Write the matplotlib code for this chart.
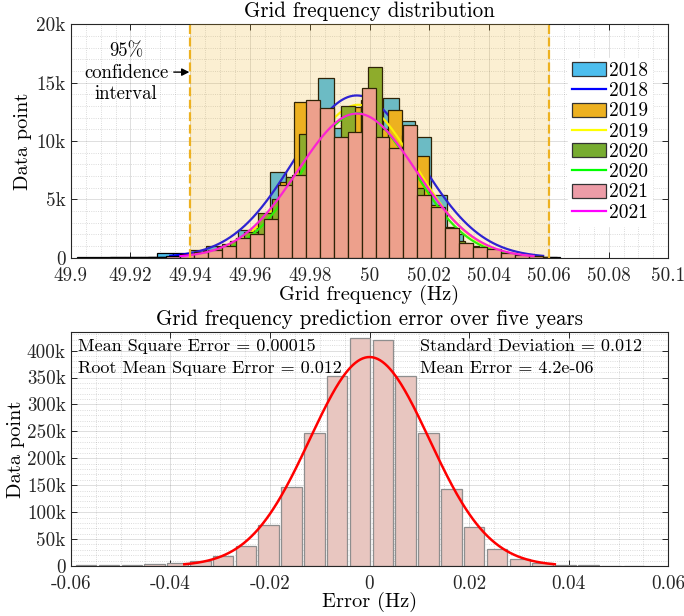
import numpy as np
import matplotlib
matplotlib.use("Agg")
import matplotlib.pyplot as plt
from matplotlib.patches import Patch
from matplotlib.lines import Line2D
from matplotlib.ticker import MultipleLocator

plt.rcParams['font.family'] = 'serif'
plt.rcParams['font.serif'] = ['cmr10']
plt.rcParams['mathtext.fontset'] = 'cm'
plt.rcParams['axes.unicode_minus'] = False

FS_TICK = 13.8
FS_LABEL = 14.7
FS_TITLE = 15.1

# ---- top panel: yearly frequency histograms (counts in thousands) ----
years = ['2018', '2019', '2020', '2021']
bar_colors = ['#4DBEEE', '#EDB120', '#77AC30', '#ED9CA7']
line_colors = ['#0000FF', '#FFFF00', '#00FF00', '#FF00FF']

first_edge = [49.90204, 49.92948, 49.92571, 49.913175]
bin_width = [0.005388, 0.004518, 0.004618, 0.004675]

counts_2018 = [0.02, 0.03, 0.04, 0.06, 0.1, 0.43, 0.43, 0.7, 1.0, 1.2, 2.4, 2.55,
               7.31, 6.8, 12.5, 15.43, 11.1, 12.0, 12.5, 13.7, 11.7, 10.3, 5.4,
               2.0, 1.0, 0.6, 0.3, 0.15, 0.08, 0.04]
counts_2019 = [0.05, 0.1, 0.2, 0.35, 0.6, 1.0, 1.5, 2.2, 3.6, 6.5, 13.3, 12.0,
               11.5, 10.0, 12.9, 13.5, 11.0, 12.66, 10.5, 8.7, 4.5, 2.6, 1.3,
               0.7, 0.4, 0.2, 0.1, 0.05]
counts_2020 = [0.04, 0.08, 0.15, 0.3, 0.55, 0.9, 1.4, 2.2, 3.8, 5.0, 6.9, 10.6,
               12.0, 10.0, 13.0, 10.5, 16.3, 9.0, 9.0, 6.0, 4.0, 2.5, 1.4, 0.9,
               0.5, 0.3, 0.15, 0.08, 0.04]
counts_2021 = [0.02, 0.03, 0.05, 0.08, 0.17, 0.29, 0.46, 0.66, 1.03, 1.69, 2.06,
               3.29, 6.2, 7.11, 13.5, 12.86, 10.34, 10.8, 14.57, 10.34, 9.37,
               11.37, 5.37, 4.37, 2.54, 1.29, 0.89, 0.71, 0.37, 0.2, 0.14, 0.09]
year_counts = [counts_2018, counts_2019, counts_2020, counts_2021]

# normal fits shown on top of each histogram
fit_mu = [49.9957, 49.9963, 49.9962, 49.9958]
fit_sigma = [0.0208, 0.0190, 0.0185, 0.0197]
fit_peak = [13.9, 13.1, 12.4, 12.35]

ci_low, ci_high = 49.94, 50.06

freq_ticks = [49.9, 49.92, 49.94, 49.96, 49.98, 50.0, 50.02, 50.04, 50.06, 50.08, 50.1]
freq_labels = ['49.9', '49.92', '49.94', '49.96', '49.98', '50', '50.02', '50.04',
               '50.06', '50.08', '50.1']
top_yticks = [0, 5000, 10000, 15000, 20000]
top_ylabels = ['0', '5k', '10k', '15k', '20k']

# ---- bottom panel: prediction error histogram ----
err_first_center = -0.0569
err_step = 0.004583
err_counts = [1.0, 1.5, 2.5, 4.0, 5.5, 10, 18, 36.5, 75.5, 146, 246.6, 353, 423,
              420, 353, 246.6, 143.8, 71.9, 31, 13, 6.2, 1.9, 1.2, 0.6, 0.4]
err_mu = 4.2e-6
err_sigma = 0.012
err_peak = 388.0

err_ticks = [-0.06, -0.04, -0.02, 0, 0.02, 0.04, 0.06]
err_labels = ['-0.06', '-0.04', '-0.02', '0', '0.02', '0.04', '0.06']
bot_yticks = [0, 50000, 100000, 150000, 200000, 250000, 300000, 350000, 400000]
bot_ylabels = ['0', '50k', '100k', '150k', '200k', '250k', '300k', '350k', '400k']

stats_left = ['Mean Square Error = 0.00015', 'Root Mean Square Error = 0.012']
stats_right = ['Standard Deviation = 0.012', 'Mean Error = 4.2e-06']


def style_axes(ax):
    ax.set_axisbelow(True)
    ax.grid(True, which='major', color='#262626', alpha=0.15, lw=0.7)
    ax.grid(True, which='minor', color='#262626', alpha=0.22, lw=0.6, ls=':')
    ax.tick_params(direction='in', top=True, right=True, length=4.5,
                   width=0.7, labelsize=FS_TICK, colors='#262626')
    ax.tick_params(axis='x', pad=6.5)
    ax.tick_params(which='minor', length=0)
    for sp in ax.spines.values():
        sp.set_color('#262626')
        sp.set_linewidth(0.8)


fig = plt.figure(figsize=(6.84, 6.16), dpi=100)
ax1 = fig.add_axes([0.1034, 0.5817, 0.8737, 0.3789])
ax2 = fig.add_axes([0.1034, 0.0812, 0.8737, 0.3794])

handles = []
for i, yr in enumerate(years):
    c = np.asarray(year_counts[i]) * 1000
    edges = first_edge[i] + bin_width[i] * np.arange(len(c))
    ax1.bar(edges, c, width=bin_width[i], align='edge', color=bar_colors[i],
            edgecolor='black', linewidth=0.9, zorder=2)
    x = np.linspace(fit_mu[i] - 3 * fit_sigma[i], fit_mu[i] + 3 * fit_sigma[i], 300)
    y = fit_peak[i] * 1000 * np.exp(-0.5 * ((x - fit_mu[i]) / fit_sigma[i]) ** 2)
    ax1.plot(x, y, color=line_colors[i], lw=1.6, zorder=2)
    handles.append(Patch(facecolor=bar_colors[i], edgecolor='#333333', lw=0.9, label=yr))
    handles.append(Line2D([], [], color=line_colors[i], lw=1.6, label=yr))

ax1.axvspan(ci_low, ci_high, color='#EDB120', alpha=0.2, lw=0, zorder=3)
for xv in (ci_low, ci_high):
    ax1.axvline(xv, color='#EDB120', lw=1.6, ls=(0, (4, 1.6)), zorder=4)

ax1.text(49.9185, 15830, '95%\nconfidence\ninterval', ha='center', va='center',
         fontsize=13.5, linespacing=1.25, zorder=5)
ax1.annotate('', xy=(49.9397, 15900), xytext=(49.9345, 15900),
             arrowprops=dict(arrowstyle='-|>', color='black', lw=1,
                             mutation_scale=11, shrinkA=0, shrinkB=0), zorder=5)

ax1.set_xlim(49.9, 50.1)
ax1.set_ylim(0, 20000)
ax1.set_xticks(freq_ticks)
ax1.set_xticklabels(freq_labels)
ax1.set_yticks(top_yticks)
ax1.set_yticklabels(top_ylabels)
ax1.xaxis.set_minor_locator(MultipleLocator(0.005))
ax1.yaxis.set_minor_locator(MultipleLocator(1000))
style_axes(ax1)
ax1.set_title('Grid frequency distribution', fontsize=FS_TITLE, pad=5.5)
ax1.set_xlabel('Grid frequency (Hz)', fontsize=FS_LABEL, labelpad=0)
ax1.set_ylabel('Data point', fontsize=FS_LABEL, labelpad=3)

leg = ax1.legend(handles=handles, loc='upper left', bbox_to_anchor=(0.832, 0.855),
                 fontsize=14, frameon=True, facecolor='white', edgecolor='white',
                 framealpha=1, handlelength=1.75, handleheight=0.72,
                 handletextpad=0.15, labelspacing=0.12, borderpad=0.2,
                 borderaxespad=0)
leg.set_zorder(10)

# bottom panel
ec = np.asarray(err_counts) * 1000
centers = err_first_center + err_step * np.arange(len(ec))
ax2.bar(centers, ec, width=err_step * 0.9, color='#E8C6C0', edgecolor='#8E8E8E',
        linewidth=0.9, zorder=2)
xe = np.linspace(err_mu - 3.1 * err_sigma, err_mu + 3.1 * err_sigma, 300)
ye = err_peak * 1000 * np.exp(-0.5 * ((xe - err_mu) / err_sigma) ** 2)
ax2.plot(xe, ye, color='red', lw=1.8, zorder=3)

for j, s in enumerate(stats_left):
    ax2.text(0.012, 0.941 - j * 0.094, s, transform=ax2.transAxes, ha='left',
             va='center', fontsize=13)
for j, s in enumerate(stats_right):
    ax2.text(0.585, 0.941 - j * 0.094, s, transform=ax2.transAxes, ha='left',
             va='center', fontsize=13)

ax2.set_xlim(-0.06, 0.06)
ax2.set_ylim(0, 434000)
ax2.set_xticks(err_ticks)
ax2.set_xticklabels(err_labels)
ax2.set_yticks(bot_yticks)
ax2.set_yticklabels(bot_ylabels)
ax2.xaxis.set_minor_locator(MultipleLocator(0.005))
ax2.yaxis.set_minor_locator(MultipleLocator(10000))
style_axes(ax2)
ax2.set_title('Grid frequency prediction error over five years', fontsize=FS_TITLE, pad=5.5)
ax2.set_xlabel('Error (Hz)', fontsize=FS_LABEL, labelpad=-1)
ax2.set_ylabel('Data point', fontsize=FS_LABEL, labelpad=1)

fig.savefig('out.png', dpi=100)
